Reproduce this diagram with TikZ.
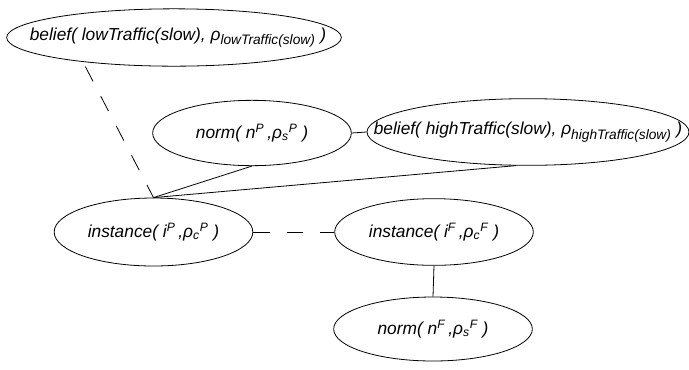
\documentclass[tikz,border=0pt]{standalone}
\usepackage{fontspec}
\setmainfont{Liberation Sans}
\usetikzlibrary{shapes.geometric}

% text sits in a zero-width box so the oval keeps the size it is given
\newcommand{\ovaltext}[1]{\makebox[0pt]{#1}}
\newcommand{\lo}[1]{\textsubscript{#1}}
\newcommand{\hi}[1]{\textsuperscript{#1}}
% larger subscript for the belief terms
\newcommand{\termlo}[1]{\textsubscript{\fontsize{10.3}{12}\selectfont #1}}

\begin{document}
\begin{tikzpicture}[x=0.75pt, y=-0.75pt, line width=0.6pt,
  every node/.style={draw, ellipse, inner sep=0pt,
    font=\fontsize{13}{15}\selectfont\itshape},
  oval/.style={minimum width=149pt, minimum height=49pt},
  wideoval/.style={minimum width=#1, minimum height=46pt},
  dashlink/.style={dash pattern=on 12.5pt off 12.5pt}]
\useasboundingbox (0,0) rectangle (689,369);
\node[wideoval=251pt, minimum height=43pt] (low) at (174,37.5) {\ovaltext{\hspace{6pt}belief( lowTraffic(slow), ρ\termlo{lowTraffic(slow)} )}};
\node[oval] (normP) at (252,133) {\ovaltext{norm( n\hi{P}\,,ρ\lo{s}\hi{P} )}};
\node[wideoval=241.5pt, minimum height=50pt] (high) at (528,132) {\ovaltext{belief( highTraffic(slow), ρ\termlo{highTraffic(slow)} )}};
\node[oval, minimum height=51pt] (instP) at (153.5,232) {\ovaltext{instance( i\hi{P}\,,ρ\lo{c}\hi{P} )}};
\node[oval, minimum height=50pt] (instF) at (434,232) {\ovaltext{instance( i\hi{F}\,,ρ\lo{c}\hi{F} )}};
\node[oval, minimum height=48pt] (normF) at (433,329) {\ovaltext{norm( n\hi{F}\,,ρ\lo{s}\hi{F} )}};
\draw[dashlink, shorten <=4pt] (low.195) -- (instP.north);
\draw (normP.south) -- (instP.north);
\draw (high.250) -- (instP.north);
\draw (normP.east) -- (high.west);
\draw[dashlink] (instP.east) -- (instF.west);
\draw (instF.south) -- (normF.north);
\end{tikzpicture}
\end{document}
